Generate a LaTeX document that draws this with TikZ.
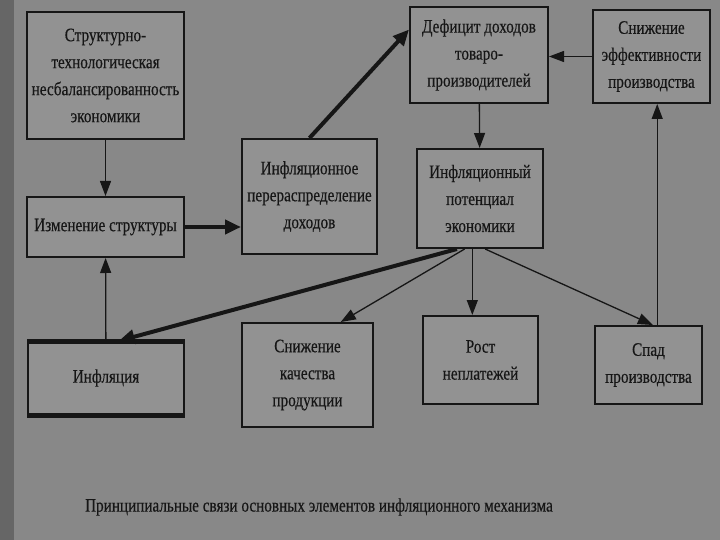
\documentclass[tikz,border=0pt]{standalone}
\usepackage{fontspec}
\setmainfont{Liberation Serif}[FakeStretch=0.8,FakeBold=0.4]
\usetikzlibrary{arrows.meta,calc}
\definecolor{bg}{RGB}{136,136,136}
\definecolor{boxfill}{RGB}{146,146,146}
\definecolor{ink}{RGB}{22,22,22}
\begin{document}
\begin{tikzpicture}[x=1pt,y=-1pt,
  box/.style={draw=ink,line width=2pt,fill=boxfill,inner sep=0pt,align=center,
    text=ink,font=\fontsize{19}{27}\selectfont},
  thin/.style={draw=ink,line width=1.3pt,-{Triangle[length=15pt,width=11pt]}},
  thick/.style={draw=ink,line width=4pt,-{Triangle[length=16pt,width=14pt]}}]
\fill[bg] (0,0) rectangle (720,540);
\fill[black!25!bg] (0,0) rectangle (14,540);
\node[box,minimum width=157pt,minimum height=127pt] (b1) at (105.5,75.5)
  {Структурно-\\технологическая\\несбалансированность\\экономики};
\node[box,minimum width=157pt,minimum height=60pt] (b2) at (105.5,227) {Изменение структуры};
\node[box,minimum width=135pt,minimum height=115pt] (b3) at (309.5,196.5)
  {Инфляционное\\перераспределение\\доходов};
\node[box,minimum width=138pt,minimum height=96pt] (b4) at (479,55)
  {Дефицит доходов\\товаро-\\производителей};
\node[box,minimum width=117pt,minimum height=93pt] (b5) at (651.5,56.5)
  {Снижение\\эффективности\\производства};
\node[box,minimum width=126pt,minimum height=99pt] (b6) at (480,198.5)
  {Инфляционный\\потенциал\\экономики};
\node[box,minimum width=156pt,minimum height=72pt] (b7) at (106,378) {Инфляция};
\draw[ink,line width=5pt] (b7.north west) -- (b7.north east);
\draw[ink,line width=5pt] (b7.south west) -- (b7.south east);
\node[box,minimum width=131pt,minimum height=104pt] (b8) at (307.5,375)
  {Снижение\\качества\\продукции};
\node[box,minimum width=115pt,minimum height=88pt] (b9) at (480.5,360)
  {Рост\\неплатежей};
\node[box,minimum width=107pt,minimum height=78pt] (b10) at (648.5,365)
  {Спад\\производства};
\node[text=ink,font=\fontsize{19}{23}\selectfont] (cap) at (319,507)
  {Принципиальные связи основных элементов инфляционного механизма};
% connectors
\draw[thin] (b1) -- (b2);
\draw[thin] (b7) -- (b2);
\draw[thick] (b2.east) -- (b2.east -| b3.west);
\draw[thick] (b3.north) -- ($(b4.north west)!0.24!(b4.south west)$);
\draw[thin] (b5.west) -- (b5.west -| b4.east);
\draw[thin] (b4) -- (b6);
\coordinate (s9) at ($(b6.south west)!0.44!(b6.south east)$);
\draw[thin] (s9) -- (s9 |- b9.north);
\draw[thick] ($(b6.south west)!0.32!(b6.south east)$) -- ($(b7.north west)!0.58!(b7.north east)$);
\draw[thin] ($(b6.south west)!0.38!(b6.south east)$) -- ($(b8.north west)!0.75!(b8.north east)$);
\draw[thin] ($(b6.south west)!0.54!(b6.south east)$) -- ($(b10.north west)!0.54!(b10.north east)$);
\coordinate (s5) at ($(b10.north west)!0.58!(b10.north east)$);
\draw[thin] (s5) -- (s5 |- b5.south);
\end{tikzpicture}
\end{document}
